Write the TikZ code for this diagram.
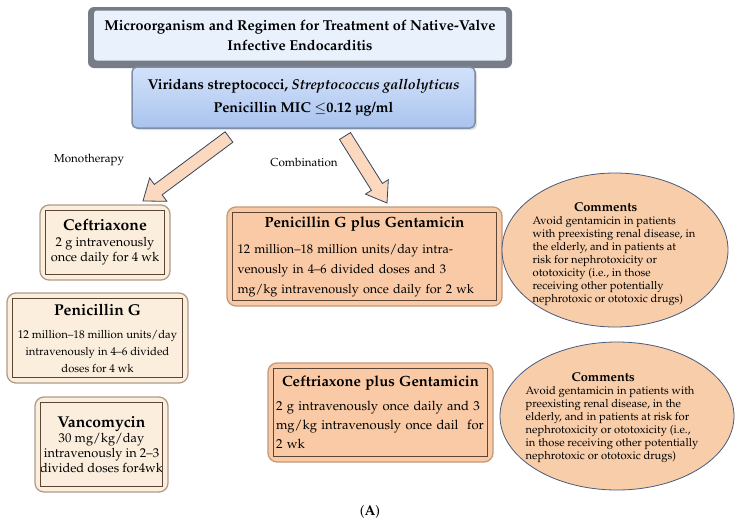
\documentclass[tikz,border=0pt]{standalone}
\usepackage[T1]{fontenc}
\usepackage{mathpazo}
\usetikzlibrary{shapes.geometric,calc}
\definecolor{titlefill}{HTML}{E8F1FC}
\definecolor{titlerim}{HTML}{777C86}
\definecolor{bluetop}{HTML}{D3E2FA}
\definecolor{bluebot}{HTML}{A9C3EE}
\definecolor{blueedge}{HTML}{7F8EA8}
\definecolor{monofill}{HTML}{FCEEDD}
\definecolor{monoedge}{HTML}{B09C8A}
\definecolor{innerline}{HTML}{5B4636}
\definecolor{combfill}{HTML}{F9CAA5}
\definecolor{combedge}{HTML}{C39A7A}
\definecolor{ellfill}{HTML}{F8CDAA}
\definecolor{elledge}{HTML}{4A5A7A}
\definecolor{arrowfill}{HTML}{FBD8BE}
\definecolor{arrowedge}{HTML}{36445E}
\tikzset{
  titlerimbox/.style={rectangle, rounded corners=6pt, fill=titlerim, minimum width=424pt, minimum height=61pt},
  titlebox/.style={rectangle, rounded corners=3pt, fill=titlefill, minimum width=412pt, minimum height=50pt, align=center, font=\fontsize{14.4}{20}\selectfont\bfseries},
  bluebox/.style={rectangle, rounded corners=5pt, top color=bluetop, bottom color=bluebot, draw=blueedge, line width=1.5pt, minimum width=343pt, minimum height=61pt, align=center, font=\fontsize{14.3}{23}\selectfont\bfseries},
  monobox/.style={rectangle, rounded corners=9pt, fill=monofill, draw=monoedge, line width=1.3pt, align=center, inner sep=0pt, font=\fontsize{12.8}{15}\selectfont},
  combbox/.style={rectangle, rounded corners=9pt, fill=combfill, draw=combedge, line width=1.3pt, inner sep=0pt},
  innerframe/.style={draw=innerline, line width=1.1pt},
  commell/.style={ellipse, fill=ellfill, draw=elledge, line width=0.8pt, inner sep=0pt},
  commtext/.style={align=left, font=\fontsize{11.2}{13}\selectfont},
  barrow/.style={fill=arrowfill, draw=arrowedge, line width=0.8pt, line join=miter},
  lbl/.style={font=\fontsize{11.6}{13}\selectfont},
}
\newcommand\mhead[1]{{\fontsize{15.7}{18}\selectfont\bfseries #1}}
\newcommand\chead[1]{{\centering\fontsize{14.8}{17}\selectfont\bfseries #1\par}}
\newcommand\cmhead[2]{\makebox[#1]{\fontsize{12.8}{13}\selectfont\bfseries #2}}
\newcommand\jline[1]{\makebox[\linewidth][s]{#1}}
\newcommand\innerbox[1]{\draw[innerframe] ([xshift=6pt,yshift=-6pt]#1.north west) rectangle ([xshift=-6pt,yshift=6pt]#1.south east);}
\newcommand\blockarrow[4]{% tail, tip, half shaft, half head
  \draw[barrow] let \p1=($(#2)-(#1)$), \n1={veclen(\x1,\y1)}, \n2={atan2(\y1,\x1)}, \n3={\n1-19pt} in
    [shift={(#1)}, rotate=\n2]
    (0pt,#3) -- (\n3,#3) -- (\n3,#4) -- (\n1,0pt) -- (\n3,-#4) -- (\n3,-#3) -- (0pt,-#3) -- cycle;}
\begin{document}
\begin{tikzpicture}[x=1pt,y=-1pt]
\useasboundingbox[fill=white] (0,0) rectangle (740,523);
% title
\node[titlerimbox] (titlerim) at (300,37.5) {};
\node[titlebox] (title) at (300,35.5) {Microorganism and Regimen for Treatment of Native-Valve\\Infective Endocarditis};
% organism box
\fill[gray!25, rounded corners=5pt] (134,69) rectangle (477,130);
\node[bluebox] (org) at (303.5,97.5) {Viridans streptococci, \textit{Streptococcus gallolyticus}\\Penicillin MIC $\leq$0.12 \textmu g/ml};
% arrows
\coordinate (a1s) at (229,137);
\coordinate (a1e) at (143,201);
\coordinate (a2s) at (345,136);
\coordinate (a2e) at (387,203);
\blockarrow{a1s}{a1e}{6.5pt}{14.5pt}
\blockarrow{a2s}{a2e}{6.5pt}{13.5pt}
\node[lbl] (mono) at (89,160) {Monotherapy};
\node[lbl] (comb) at (304,162) {Combination};
% monotherapy boxes
\node[monobox, minimum width=130pt, minimum height=75pt] (cef) at (105,242.5)
  {\mhead{Ceftriaxone}\\[1pt]2 g intravenously\\once daily for 4 wk};
\innerbox{cef}
\node[monobox, minimum width=181pt, minimum height=90pt, font=\fontsize{11.3}{17}\selectfont] (pen) at (97.5,338)
  {\mhead{Penicillin G}\\[6pt]12 million--18 million units/day\\intravenously in 4--6 divided\\doses for 4 wk};
\innerbox{pen}
\node[monobox, minimum width=133pt, minimum height=95pt] (van) at (101.5,444.5)
  {\mhead{Vancomycin}\\30 mg/kg/day\\intravenously in 2--3\\divided doses for4wk};
\innerbox{van}
% combination boxes
\node[combbox, minimum width=275pt, minimum height=99pt, text width=254pt, font=\fontsize{12.6}{20}\selectfont] (pgg) at (364.5,256.5)
  {\chead{Penicillin G plus Gentamicin}\vspace{6pt}\raggedright
   12 million--18 million units/day intra-\\venously in 4--6 divided doses and 3\\mg/kg intravenously once daily for 2 wk};
\innerbox{pgg}
\node[combbox, minimum width=225pt, minimum height=99pt, text width=209pt, font=\fontsize{13}{19}\selectfont] (cpg) at (380.5,412.5)
  {\chead{Ceftriaxone plus Gentamicin}\vspace{5pt}\raggedright
   \jline{2 g intravenously once daily and 3}\\\jline{mg/kg intravenously once dail\ \ for}\\2 wk};
\innerbox{cpg}
% comments
\node[commell, minimum width=226pt, minimum height=154pt] (e1) at (615,250) {};
\node[commtext] (c1) at (614,254)
  {\cmhead{146pt}{Comments}\\Avoid gentamicin in patients\\with preexisting renal disease, in\\the elderly, and in patients at\\risk for nephrotoxicity or\\ototoxicity (i.e., in those\\receiving other potentially\\nephrotoxic or ototoxic drugs)};
\node[commell, minimum width=234pt, minimum height=148pt] (e2) at (617,416) {};
\node[commtext] (c2) at (612,418)
  {\cmhead{155pt}{Comments}\\Avoid gentamicin in patients with\\preexisting renal disease, in the\\elderly, and in patients at risk for\\nephrotoxicity or ototoxicity (i.e.,\\in those receiving other potentially\\nephrotoxic or ototoxic drugs)};
\node[lbl, font=\fontsize{14}{16}\selectfont] (cap) at (370,512) {(\textbf{A})};
\end{tikzpicture}
\end{document}
